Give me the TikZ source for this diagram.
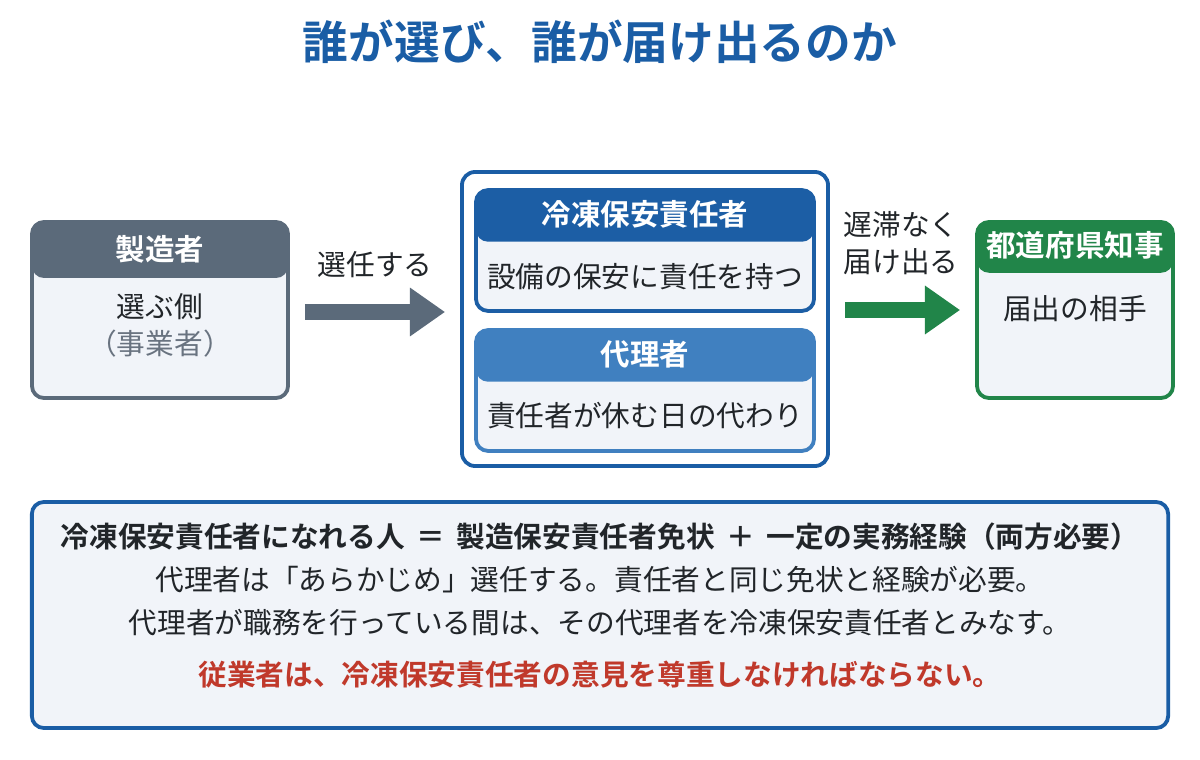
\documentclass[tikz,border=0pt]{standalone}
\usepackage{fontspec}
\setmainfont{Noto Sans CJK JP}[BoldFont={Noto Sans CJK JP Bold}]
\usetikzlibrary{
  arrows.meta,
  positioning,
  calc
}
\definecolor{cTitle}{RGB}{26,93,165}
\definecolor{cSlate}{RGB}{91,106,122}
\definecolor{cDuty}{RGB}{28,94,165}
\definecolor{cDeputy}{RGB}{64,128,192}
\definecolor{cGov}{RGB}{33,133,73}
\definecolor{cBody}{RGB}{241,244,249}
\definecolor{cInk}{RGB}{33,37,41}
\definecolor{cMuted}{RGB}{105,115,128}
\definecolor{cWarn}{RGB}{192,57,43}

\begin{document}
\begin{tikzpicture}[
  x=0.025cm, y=-0.025cm,
  card/.style 2 args={
    draw=#1, fill=cBody, line width=2.7pt, rounded corners=0.3cm,
    inner sep=0pt,
    path picture={\fill[#1] (path picture bounding box.north west)
      rectangle ([yshift=-#2]path picture bounding box.north east);}
  },
  frame/.style={
    draw=cTitle, line width=2.7pt, rounded corners=0.33cm, inner sep=0pt
  },
  head/.style={font=\fontsize{21}{25}\selectfont\bfseries, text=white},
  body/.style={font=\fontsize{20.4}{24}\selectfont, text=cInk},
  rule/.style={font=\fontsize{20.4}{24}\selectfont\bfseries, text=cInk},
  warn/.style={font=\fontsize{20.4}{24}\selectfont\bfseries, text=cWarn},
  lbl/.style={font=\fontsize{20.4}{26.3}\selectfont, text=cInk, align=left},
  flow/.style={draw=#1, line width=11pt,
    -{Triangle[length=25pt 0 0, width=33pt 0 0]}}
]
\useasboundingbox (0,0) rectangle (1200,760);

% Title
\node[font=\fontsize{32.5}{38}\selectfont\bfseries, text=cTitle] (title)
  at (600,42) {誰が選び、誰が届け出るのか};

% Manufacturer
\node[card={cSlate}{1.4cm}, minimum width=6.4cm, minimum height=4.4cm]
  (maker) at (160,310) {};
\node[head] (makerHead) at (160,249) {製造者};
\node[body] (makerRole) at (160,307) {選ぶ側};
\node[body, text=cMuted] (makerNote) at (160,344) {（事業者）};

% Appointed persons
\node[frame, fill=white, minimum width=9.15cm, minimum height=7.35cm]
  (roles) at (645,319) {};
\node[card={cDuty}{1.29cm}, minimum width=8.45cm, minimum height=3.02cm]
  (duty) at (645,250.5) {};
\node[head] (dutyHead) at (645,214) {冷凍保安責任者};
\node[body] (dutyBody) at (645,277) {設備の保安に責任を持つ};
\node[card={cDeputy}{1.29cm}, minimum width=8.45cm, minimum height=3.02cm]
  (deputy) at (645,390.5) {};
\node[head] (deputyHead) at (645,354) {代理者};
\node[body] (deputyBody) at (645,416) {責任者が休む日の代わり};

% Governor
\node[card={cGov}{1.27cm}, minimum width=4.9cm, minimum height=4.4cm]
  (gov) at (1075,310) {};
\node[head] (govHead) at (1075,245) {都道府県知事};
\node[body] (govBody) at (1075,309) {届出の相手};

% Arrows
\node[lbl] (pickLbl) at (375,265) {選任する};
\draw[flow=cSlate] ($(maker.east)+(15,2)$) -- ($(roles.west |- maker.east)+(-15,2)$);
\node[lbl] (fileLbl) at (901,243) {遅滞なく\\届け出る};
\draw[flow=cGov] ($(roles.east |- gov.west)+(15,0)$) -- ($(gov.west)+(-15,0)$);

% Note
\node[frame, fill=cBody, rounded corners=0.3cm, minimum width=28.4cm,
  minimum height=5.65cm] (note) at (600,615) {};
\node[rule] (noteRule) at (600,537)
  {冷凍保安責任者になれる人\hspace{0.4em}＝\hspace{0.4em}製造保安責任者免状\hspace{0.4em}＋\hspace{0.4em}一定の実務経験（両方必要）};
\node[body] (noteDeputy) at (600,580)
  {代理者は「あらかじめ」選任する。責任者と同じ免状と経験が必要。};
\node[body] (noteDeem) at (600,623)
  {代理者が職務を行っている間は、その代理者を冷凍保安責任者とみなす。};
\node[warn] (noteWarn) at (600,675)
  {従業者は、冷凍保安責任者の意見を尊重しなければならない。};

\end{tikzpicture}
\end{document}
